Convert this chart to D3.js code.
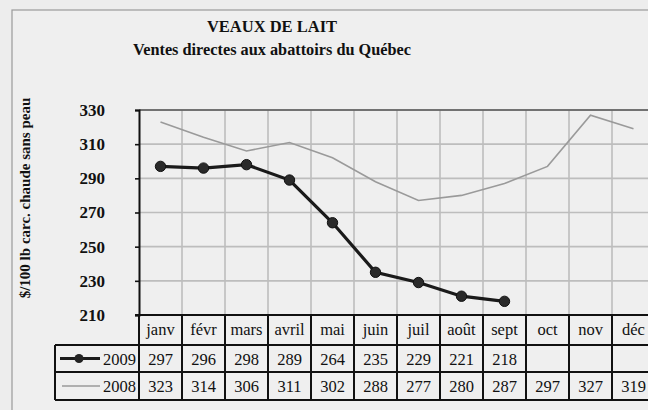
<!DOCTYPE html>
<html>
<head>
<meta charset="utf-8">
<script src="https://cdn.jsdelivr.net/npm/d3@7"></script>
<style>
html,body{margin:0;padding:0;background:#ededed;}
svg{display:block;}
text{font-family:"Liberation Serif","Times New Roman",serif;fill:#111;}
</style>
</head>
<body>
<svg id="c" width="648" height="410"></svg>
<script>
const months = ["janv","févr","mars","avril","mai","juin","juil","août","sept","oct","nov","déc"];
const values2009 = [297,296,298,289,264,235,229,221,218];
const values2008 = [323,314,306,311,302,288,277,280,287,297,327,319];
const yTicks = [210,230,250,270,290,310,330];
const title1 = "VEAUX DE LAIT";
const title2 = "Ventes directes aux abattoirs du Québec";
const yLabel = "$/100 lb carc. chaude sans peau";

const svg = d3.select("#c");
const W = 648, H = 410;
const plot = {l:139, r:655, t:110, b:315};
const rowH = [30, 27, 28];

// outer frame
svg.append("rect").attr("x",0).attr("y",0).attr("width",W).attr("height",H).attr("fill","#ededed");
svg.append("rect").attr("x",12).attr("y",10).attr("width",W).attr("height",H)
  .attr("fill","#efefef").attr("stroke","#9a9a9a").attr("stroke-width",1.2);

// titles
svg.append("text").attr("x",272).attr("y",32).attr("text-anchor","middle")
  .attr("font-size",16.5).attr("font-weight","bold").text(title1);
svg.append("text").attr("x",272).attr("y",55).attr("text-anchor","middle")
  .attr("font-size",16.3).attr("font-weight","bold").text(title2);

const x = d3.scaleBand().domain(months).range([plot.l, plot.r]).padding(0);
const y = d3.scaleLinear().domain([210,330]).range([plot.b, plot.t]);

// grid
const g = svg.append("g");
g.selectAll(".hg").data(yTicks).join("line")
  .attr("x1",plot.l).attr("x2",plot.r).attr("y1",d=>y(d)).attr("y2",d=>y(d))
  .attr("stroke","#bdbdbd").attr("stroke-width",1.6);
g.selectAll(".vg").data(months.slice(1)).join("line")
  .attr("x1",d=>x(d)).attr("x2",d=>x(d)).attr("y1",plot.t).attr("y2",plot.b)
  .attr("stroke","#bdbdbd").attr("stroke-width",1.6);
// top border
svg.append("line").attr("x1",plot.l).attr("x2",plot.r).attr("y1",plot.t).attr("y2",plot.t)
  .attr("stroke","#555").attr("stroke-width",1.6);

// y axis
const yAxis = d3.axisLeft(y).tickValues(yTicks).tickSize(4).tickPadding(30);
const ya = svg.append("g").attr("transform",`translate(${plot.l},0)`).call(yAxis);
ya.select(".domain").attr("stroke","#111").attr("stroke-width",2);
ya.selectAll(".tick line").attr("stroke","#111").attr("stroke-width",1.6);
ya.selectAll(".tick text").attr("font-size",17).attr("font-weight","bold")
  .attr("font-family","'Liberation Serif',serif").attr("fill","#111");

// y label
svg.append("text").attr("transform","translate(25,198) rotate(-90)")
  .attr("text-anchor","middle").attr("dominant-baseline","central")
  .attr("font-size",15).attr("font-weight","bold").text(yLabel);

// lines
const line = d3.line().x((d,i)=>x(months[i])+x.bandwidth()/2).y(d=>y(d));
svg.append("path").datum(values2008).attr("d",line).attr("fill","none")
  .attr("stroke","#9a9a9a").attr("stroke-width",1.6);
svg.append("path").datum(values2009).attr("d",line).attr("fill","none")
  .attr("stroke","#1a1a1a").attr("stroke-width",3.2);
svg.selectAll(".pt").data(values2009).join("circle")
  .attr("cx",(d,i)=>x(months[i])+x.bandwidth()/2).attr("cy",d=>y(d)).attr("r",5.2)
  .attr("fill","#2a2a2a").attr("stroke","#111").attr("stroke-width",1);

// table
const r0 = plot.b, r1 = r0+rowH[0], r2 = r1+rowH[1], r3 = r2+rowH[2];
const legL = 55;
const tb = svg.append("g");
const ts = {stroke:"#111", w:2};
function ln(x1,y1,x2,y2){tb.append("line").attr("x1",x1).attr("y1",y1).attr("x2",x2).attr("y2",y2)
  .attr("stroke",ts.stroke).attr("stroke-width",ts.w);}
ln(plot.l-4,r0,plot.r,r0);
ln(legL,r1,plot.r,r1);
ln(legL,r2,plot.r,r2);
ln(legL,r3,plot.r,r3);
ln(legL,r1,legL,r3);
ln(plot.l,r0,plot.l,r3);
months.slice(1).forEach(m=>ln(x(m),r0,x(m),r3));

const fs = 16.5;
tb.selectAll(".mt").data(months).join("text")
  .attr("x",d=>x(d)+x.bandwidth()/2).attr("y",r0+20).attr("text-anchor","middle")
  .attr("font-size",fs).text(d=>d);
tb.selectAll(".v9").data(values2009).join("text")
  .attr("x",(d,i)=>x(months[i])+x.bandwidth()/2).attr("y",r1+20).attr("text-anchor","middle")
  .attr("font-size",fs).text(d=>d);
tb.selectAll(".v8").data(values2008).join("text")
  .attr("x",(d,i)=>x(months[i])+x.bandwidth()/2).attr("y",r2+20).attr("text-anchor","middle")
  .attr("font-size",fs).text(d=>d);

// legend
const ly1 = (r1+r2)/2, ly2 = (r2+r3)/2;
tb.append("line").attr("x1",60).attr("x2",100).attr("y1",ly1).attr("y2",ly1)
  .attr("stroke","#1a1a1a").attr("stroke-width",3);
tb.append("circle").attr("cx",79).attr("cy",ly1).attr("r",4.5).attr("fill","#222");
tb.append("text").attr("x",136).attr("y",r1+20).attr("text-anchor","end").attr("font-size",fs).text("2009");
tb.append("line").attr("x1",62).attr("x2",100).attr("y1",ly2).attr("y2",ly2)
  .attr("stroke","#9a9a9a").attr("stroke-width",1.6);
tb.append("text").attr("x",136).attr("y",r2+20).attr("text-anchor","end").attr("font-size",fs).text("2008");
</script>
</body>
</html>
